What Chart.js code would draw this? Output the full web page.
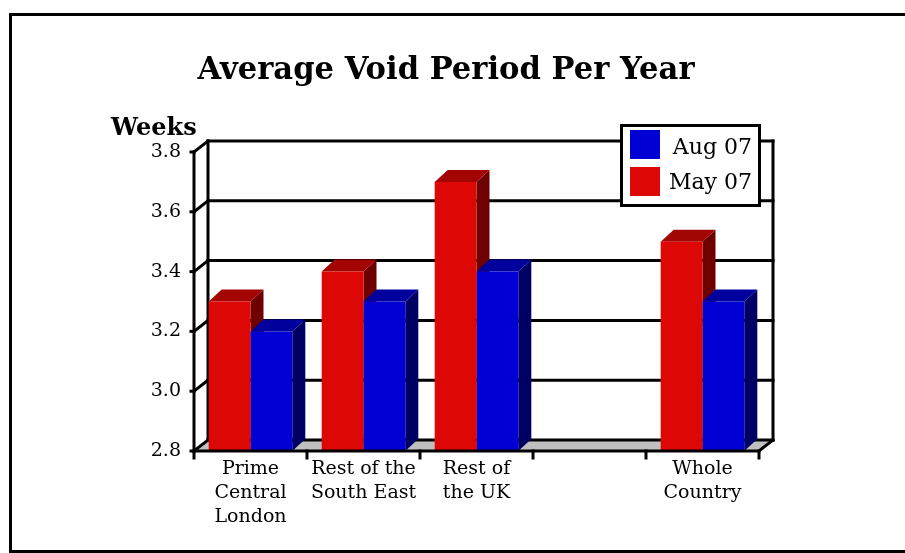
<!DOCTYPE html>
<html lang="en">
<head>
<meta charset="UTF-8">
<title>Average Void Period Per Year</title>
<style>
  body { margin: 0; background: #fff; }
  #wrap { width: 905px; height: 553px; position: relative; }
</style>
</head>
<body>
<div id="wrap"><canvas id="myChart"></canvas></div>

<script src="https://cdn.jsdelivr.net/npm/chart.js@4.4.0/dist/chart.umd.min.js"></script>
<script>
// data
const categories = [['Prime', 'Central', 'London'], ['Rest of the', 'South East'], ['Rest of', 'the UK'], '', ['Whole', 'Country']];
const may07 = [3.3, 3.4, 3.7, null, 3.5];
const aug07 = [3.2, 3.3, 3.4, null, 3.3];
const seriesNames = ['May 07', 'Aug 07'];
const yMin = 2.8, yMax = 3.8, yStep = 0.2;
const titleText = 'Average Void Period Per Year';
const yAxisTitle = 'Weeks';

const FONT = '"DejaVu Serif", serif';
const front = ['#dd0806', '#0000d4'];
const tops = ['#a30404', '#00009c'];
const sides = ['#6e0000', '#000064'];
const WX = 14, WY = 11;   // wall depth
const BX = 13, BY = 12;   // bar depth

function poly(ctx, pts, fill) {
  ctx.beginPath();
  ctx.moveTo(pts[0][0], pts[0][1]);
  for (let i = 1; i < pts.length; i++) ctx.lineTo(pts[i][0], pts[i][1]);
  ctx.closePath();
  ctx.fillStyle = fill;
  ctx.fill();
}
function line(ctx, x1, y1, x2, y2) {
  ctx.beginPath();
  ctx.moveTo(x1, y1);
  ctx.lineTo(x2, y2);
  ctx.stroke();
}

const threeD = {
  id: 'threeD',
  beforeDraw(chart) {
    const ctx = chart.ctx;
    ctx.save();
    ctx.fillStyle = '#fff';
    ctx.fillRect(0, 0, chart.width, chart.height);
    ctx.strokeStyle = '#000';
    ctx.lineWidth = 3;
    ctx.strokeRect(10.5, 14.5, 1000, 537);
    // title + axis caption
    ctx.fillStyle = '#000';
    ctx.textBaseline = 'alphabetic';
    ctx.textAlign = 'center';
    ctx.font = 'bold 32px ' + FONT;
    ctx.fillText(titleText, 446, 79, 497);
    ctx.textAlign = 'left';
    ctx.font = 'bold 24px ' + FONT;
    ctx.fillText(yAxisTitle, 111, 135, 90);
    ctx.restore();
  },
  beforeDatasetsDraw(chart) {
    const ctx = chart.ctx, a = chart.chartArea, ys = chart.scales.y;
    ctx.save();
    // floor
    poly(ctx, [[a.left, a.bottom], [a.right, a.bottom], [a.right + WX, a.bottom - WY], [a.left + WX, a.bottom - WY]], '#c0c0c0');
    ctx.strokeStyle = '#000';
    ctx.lineWidth = 3;
    ctx.lineCap = 'square';
    // back wall grid + left wall diagonals
    ys.ticks.forEach(t => {
      const y = ys.getPixelForValue(t.value);
      line(ctx, a.left + WX, y - WY, a.right + WX, y - WY);
      line(ctx, a.left, y, a.left + WX, y - WY);
      line(ctx, a.left - 3, y, a.left, y);
    });
    line(ctx, a.left + WX, a.top - WY, a.left + WX, a.bottom - WY);
    line(ctx, a.right + WX, a.top - WY, a.right + WX, a.bottom - WY);
    line(ctx, a.left, a.top, a.left, a.bottom);
    ctx.restore();

    // top and side faces of the bars, drawn behind the front faces
    ctx.save();
    chart.data.datasets.forEach((ds, di) => {
      const meta = chart.getDatasetMeta(di);
      meta.data.forEach((bar, i) => {
        if (ds.data[i] == null) return;
        const p = bar.getProps(['x', 'y', 'base', 'width'], true);
        const l = p.x - p.width / 2, r = p.x + p.width / 2;
        const b = Math.min(p.base, a.bottom);
        poly(ctx, [[r, p.y], [r + BX, p.y - BY], [r + BX, b - BY], [r, b]], sides[di]);
        poly(ctx, [[l, p.y], [r, p.y], [r + BX, p.y - BY], [l + BX, p.y - BY]], tops[di]);
      });
    });
    ctx.restore();
  },
  afterDatasetsDraw(chart) {
    const ctx = chart.ctx, a = chart.chartArea;
    const n = chart.data.labels.length;
    ctx.save();
    ctx.strokeStyle = '#000';
    ctx.lineWidth = 3;
    ctx.lineCap = 'square';
    line(ctx, a.left, a.bottom, a.right, a.bottom);
    line(ctx, a.right, a.bottom, a.right + WX, a.bottom - WY);
    for (let i = 0; i <= n; i++) {
      const x = a.left + i * (a.right - a.left) / n;
      line(ctx, x, a.bottom, x, a.bottom + 7);
    }
    ctx.restore();
  },
  afterDraw(chart) {
    const ctx = chart.ctx;
    ctx.save();
    ctx.fillStyle = '#fff';
    ctx.fillRect(621, 125, 139, 81);
    ctx.strokeStyle = '#000';
    ctx.lineWidth = 3;
    ctx.strokeRect(621.5, 125.5, 138, 80);
    ctx.font = '22px ' + FONT;
    ctx.textAlign = 'right';
    ctx.textBaseline = 'alphabetic';
    // legend lists Aug first
    [1, 0].forEach((di, k) => {
      const ds = chart.data.datasets[di];
      ctx.fillStyle = ds.backgroundColor;
      ctx.fillRect(630, 130 + k * 37, 30, 29);
      ctx.fillStyle = '#000';
      ctx.fillText(ds.label, 752, 154 + k * 35);
    });
    ctx.restore();
  }
};

const config = {
  type: 'bar',
  data: {
    labels: categories,
    datasets: [
      { label: seriesNames[0], data: may07, backgroundColor: front[0], borderWidth: 0 },
      { label: seriesNames[1], data: aug07, backgroundColor: front[1], borderWidth: 0 }
    ]
  },
  options: {
    responsive: true,
    maintainAspectRatio: false,
    animation: false,
    events: [],
    categoryPercentage: 0.74,
    barPercentage: 1.0,
    layout: { padding: { top: 152, right: 146, bottom: 0, left: 0 } },
    plugins: {
      legend: { display: false },
      title: { display: false },
      tooltip: { enabled: false }
    },
    scales: {
      x: {
        grid: { display: false, drawTicks: false },
        border: { display: false },
        ticks: {
          color: '#000',
          padding: 6,
          maxRotation: 0,
          autoSkip: false,
          font: { family: FONT, size: 19, lineHeight: '24px' }
        },
        afterFit(s) { s.height = 102; }
      },
      y: {
        min: yMin,
        max: yMax,
        grid: { display: false, drawTicks: false },
        border: { display: false },
        ticks: {
          stepSize: yStep,
          color: '#000',
          padding: 13,
          font: { family: FONT, size: 19 },
          callback: v => Number(v).toFixed(1)
        },
        afterFit(s) { s.width = 194; }
      }
    }
  },
  plugins: [threeD]
};

const myChart = new Chart(document.getElementById('myChart'), config);
</script>
</body>
</html>
